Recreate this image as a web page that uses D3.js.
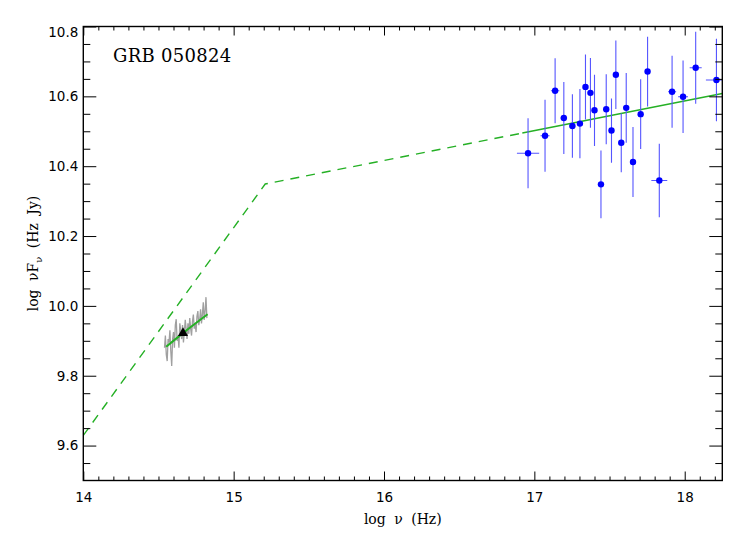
<!DOCTYPE html>
<html>
<head>
<meta charset="utf-8">
<script src="https://cdn.jsdelivr.net/npm/d3@7"></script>
<style>
  html, body { margin: 0; padding: 0; background: #fff; }
  svg { display: block; }
</style>
</head>
<body>
<svg id="chart" width="747" height="534"></svg>
<script>
// ---------------- data ----------------
const title = "GRB 050824";

// X-ray spectrum (log nu, log nuFnu) with errors
const xrayNu      = [16.958, 17.071, 17.138, 17.196, 17.253, 17.303, 17.340, 17.373, 17.400, 17.443, 17.478, 17.513, 17.542, 17.578, 17.611, 17.656, 17.707, 17.753, 17.831, 17.916, 17.989, 18.073, 18.211];
const xrayFlux    = [10.437, 10.487, 10.616, 10.538, 10.515, 10.522, 10.627, 10.610, 10.560, 10.348, 10.563, 10.502, 10.662, 10.467, 10.567, 10.412, 10.549, 10.671, 10.359, 10.613, 10.599, 10.682, 10.647];
const xrayFluxErr = [0.100, 0.103, 0.093, 0.103, 0.091, 0.099, 0.093, 0.100, 0.102, 0.097, 0.100, 0.092, 0.098, 0.084, 0.100, 0.100, 0.100, 0.100, 0.105, 0.103, 0.104, 0.103, 0.118];
const xrayNuErr   = [0.074, 0.030, 0.028, 0.022, 0.020, 0.015, 0.012, 0.012, 0.012, 0.012, 0.012, 0.012, 0.012, 0.012, 0.012, 0.015, 0.015, 0.015, 0.053, 0.027, 0.033, 0.040, 0.070];

// optical spectrum (grey)
const optNu   = [14.540, 14.546, 14.552, 14.558, 14.564, 14.570, 14.576, 14.582, 14.588, 14.594, 14.600, 14.606, 14.612, 14.618, 14.624, 14.630, 14.636, 14.642, 14.648, 14.654, 14.660, 14.666, 14.672, 14.678, 14.684, 14.690, 14.696, 14.702, 14.708, 14.714, 14.720, 14.726, 14.732, 14.738, 14.744, 14.750, 14.756, 14.762, 14.768, 14.774, 14.780, 14.786, 14.792, 14.798, 14.804, 14.810, 14.816, 14.822];
const optFlux = [9.880, 9.915, 9.860, 9.842, 9.905, 9.895, 9.930, 9.870, 9.828, 9.905, 9.925, 9.880, 9.945, 9.962, 9.900, 9.915, 9.880, 9.950, 9.930, 9.905, 9.945, 9.895, 9.925, 9.960, 9.935, 9.905, 9.950, 9.920, 9.965, 9.935, 9.915, 9.955, 9.975, 9.935, 9.950, 9.925, 9.970, 9.985, 9.945, 9.960, 9.990, 9.950, 9.975, 10.010, 9.960, 9.985, 10.025, 9.965];

// optical photometric point (triangle)
const photNu   = [14.663];
const photFlux = [9.922];

// fits
const optFitNu   = [14.551, 14.663, 14.827];
const optFitFlux = [9.883, 9.922, 9.976];
const modelDashNu   = [14.00, 15.21, 16.92];
const modelDashFlux = [9.629, 10.349, 10.495];
const xrayFitNu   = [16.92, 18.25];
const xrayFitFlux = [10.495, 10.608];

// axes
const xDomain = [14, 18.25];
const yDomain = [9.5, 10.8];
const xTicks = [14, 15, 16, 17, 18];
const yTicks = [9.6, 9.8, 10.0, 10.2, 10.4, 10.6, 10.8];

// ---------------- layout ----------------
const L = 83.3, R = 722.3, T = 26.5, B = 480.5;
const svg = d3.select("#chart");
const x = d3.scaleLinear().domain(xDomain).range([L, R]);
const y = d3.scaleLinear().domain(yDomain).range([B, T]);

const xMinor = d3.range(14.1, 18.25, 0.1).filter(v => Math.abs(v - Math.round(v)) > 1e-6);
const yMinor = d3.range(9.55, 10.8, 0.05).filter(v => Math.abs(v * 5 - Math.round(v * 5)) > 1e-6);

svg.append("defs").append("clipPath").attr("id", "plotclip")
  .append("rect").attr("x", L).attr("y", T).attr("width", R - L).attr("height", B - T);

const plot = svg.append("g").attr("clip-path", "url(#plotclip)");

// grey optical spectrum
plot.append("path")
  .datum(optNu.map((d, i) => [d, optFlux[i]]))
  .attr("fill", "none").attr("stroke", "#a0a0a0").attr("stroke-width", 1.3)
  .attr("d", d3.line().x(d => x(d[0])).y(d => y(d[1])));

const green = "#25b025";
const line = d3.line().x(d => x(d[0])).y(d => y(d[1]));

plot.append("path")
  .datum(modelDashNu.map((d, i) => [d, modelDashFlux[i]]))
  .attr("fill", "none").attr("stroke", green).attr("stroke-width", 1.4)
  .attr("stroke-dasharray", "9,7").attr("d", line);

plot.append("path")
  .datum(xrayFitNu.map((d, i) => [d, xrayFitFlux[i]]))
  .attr("fill", "none").attr("stroke", green).attr("stroke-width", 1.4).attr("d", line);

plot.append("path")
  .datum(optFitNu.map((d, i) => [d, optFitFlux[i]]))
  .attr("fill", "none").attr("stroke", green).attr("stroke-width", 2)
  .attr("d", d3.line().x(d => x(d[0])).y(d => y(d[1])).curve(d3.curveMonotoneX));

// X-ray error bars
const ebColor = "#5555ff";
const eb = plot.append("g").attr("stroke", ebColor).attr("stroke-width", 1.1);
xrayNu.forEach((nu, i) => {
  eb.append("line")
    .attr("x1", x(nu)).attr("x2", x(nu))
    .attr("y1", y(xrayFlux[i] - xrayFluxErr[i])).attr("y2", y(xrayFlux[i] + xrayFluxErr[i]));
  eb.append("line")
    .attr("x1", x(nu - xrayNuErr[i])).attr("x2", x(nu + xrayNuErr[i]))
    .attr("y1", y(xrayFlux[i])).attr("y2", y(xrayFlux[i]));
});
plot.append("g").selectAll("circle")
  .data(xrayNu.map((d, i) => [d, xrayFlux[i]]))
  .join("circle")
  .attr("cx", d => x(d[0])).attr("cy", d => y(d[1])).attr("r", 3.2)
  .attr("fill", "#0000ff");

// triangle
plot.append("g").selectAll("path")
  .data(photNu.map((d, i) => [d, photFlux[i]]))
  .join("path")
  .attr("transform", d => `translate(${x(d[0])},${y(d[1])})`)
  .attr("d", d3.symbol(d3.symbolTriangle, 44))
  .attr("fill", "#000");

// ---------------- axes ----------------
function styleAxis(g) {
  g.select(".domain").remove();
  g.selectAll(".tick line").attr("stroke", "#000").attr("stroke-width", 1);
  g.selectAll(".tick text").attr("fill", "#000")
    .attr("font-family", "DejaVu Sans").attr("font-size", 13.5);
}

// bottom
svg.append("g").attr("transform", `translate(0,${B})`)
  .call(d3.axisBottom(x).tickValues(xTicks).tickFormat(d3.format("d"))
    .tickSizeInner(-9).tickSizeOuter(0).tickPadding(12))
  .call(styleAxis);
svg.append("g").attr("transform", `translate(0,${B})`)
  .call(d3.axisBottom(x).tickValues(xMinor).tickFormat("").tickSizeInner(-4).tickSizeOuter(0))
  .call(styleAxis);
// top
svg.append("g").attr("transform", `translate(0,${T})`)
  .call(d3.axisTop(x).tickValues(xTicks).tickFormat("").tickSizeInner(-9).tickSizeOuter(0))
  .call(styleAxis);
svg.append("g").attr("transform", `translate(0,${T})`)
  .call(d3.axisTop(x).tickValues(xMinor).tickFormat("").tickSizeInner(-4).tickSizeOuter(0))
  .call(styleAxis);
// left
const yl = svg.append("g").attr("transform", `translate(${L},0)`)
  .call(d3.axisLeft(y).tickValues(yTicks).tickFormat(d3.format(".1f"))
    .tickSizeInner(-13).tickSizeOuter(0).tickPadding(5))
  .call(styleAxis);
yl.selectAll(".tick").filter(d => d === yDomain[1]).select("text").attr("dy", "0.72em");
svg.append("g").attr("transform", `translate(${L},0)`)
  .call(d3.axisLeft(y).tickValues(yMinor).tickFormat("").tickSizeInner(-7).tickSizeOuter(0))
  .call(styleAxis);
// right
svg.append("g").attr("transform", `translate(${R},0)`)
  .call(d3.axisRight(y).tickValues(yTicks).tickFormat("").tickSizeInner(-13).tickSizeOuter(0))
  .call(styleAxis);
svg.append("g").attr("transform", `translate(${R},0)`)
  .call(d3.axisRight(y).tickValues(yMinor).tickFormat("").tickSizeInner(-7).tickSizeOuter(0))
  .call(styleAxis);

// frame
svg.append("rect").attr("x", L).attr("y", T).attr("width", R - L).attr("height", B - T)
  .attr("fill", "none").attr("stroke", "#000").attr("stroke-width", 1.4);

// title
svg.append("text").attr("x", 113).attr("y", 62)
  .attr("font-family", "DejaVu Serif").attr("font-size", 18).attr("fill", "#000")
  .attr("letter-spacing", 0.3)
  .text(title);

// x label
svg.append("text").attr("x", (L + R) / 2).attr("y", 524)
  .attr("text-anchor", "middle")
  .attr("font-family", "DejaVu Serif").attr("font-size", 14).attr("fill", "#000")
  .attr("word-spacing", 4)
  .text("log ν (Hz)");

// y label
const ylab = svg.append("text")
  .attr("transform", `translate(38,${(T + B) / 2}) rotate(-90)`)
  .attr("text-anchor", "middle")
  .attr("font-family", "DejaVu Serif").attr("font-size", 14).attr("fill", "#000")
  .attr("word-spacing", 4);
ylab.append("tspan").text("log νF");
ylab.append("tspan").attr("font-size", 10).attr("dy", 4).text("ν");
ylab.append("tspan").attr("dy", -4).text(" (Hz Jy)");
</script>
</body>
</html>
